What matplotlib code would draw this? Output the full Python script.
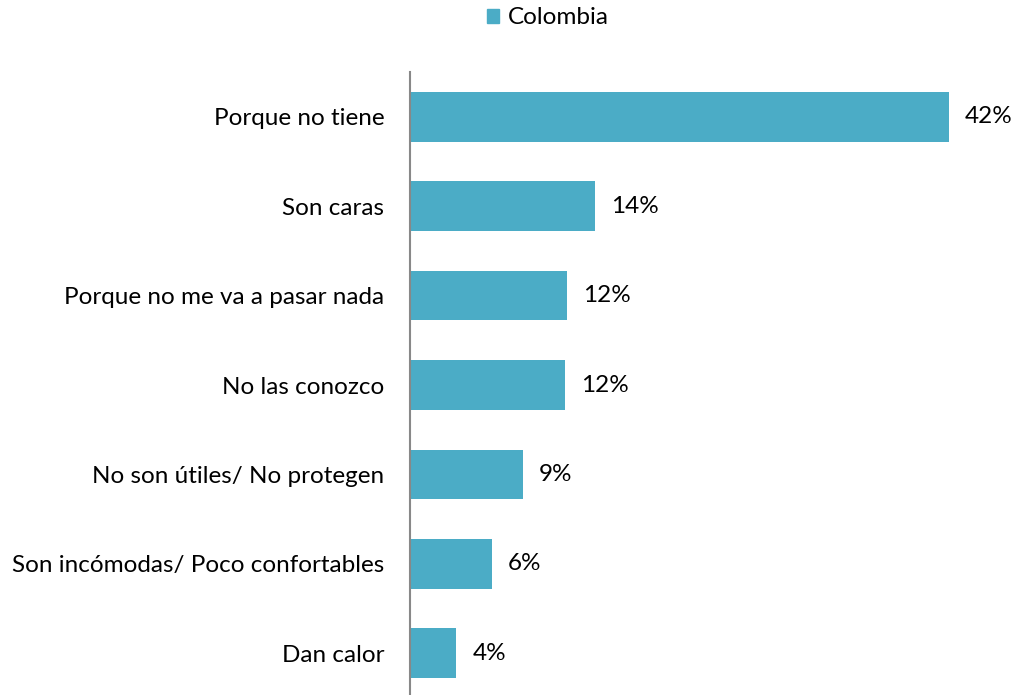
import matplotlib
matplotlib.use("Agg")
import matplotlib.pyplot as plt
import matplotlib.patches as mpatches

# Chart data (top to bottom)
categories = [
    "Porque no tiene",
    "Son caras",
    "Porque no me va a pasar nada",
    "No las conozco",
    "No son útiles/ No protegen",
    "Son incómodas/ Poco confortables",
    "Dan calor",
]
values = [42.0, 14.4, 12.2, 12.1, 8.8, 6.4, 3.6]
value_labels = ["42%", "14%", "12%", "12%", "9%", "6%", "4%"]
series_name = "Colombia"

bar_color = "#4BACC6"
fs = 17.5
plt.rcParams["font.family"] = ["Lato", "DejaVu Sans"]

fig = plt.figure(figsize=(10.16, 6.95), dpi=100)
ax = fig.add_axes([410 / 1016, -3 / 695, 603 / 1016, 626 / 695])

y = list(range(len(categories)))
ax.barh(y, values, height=0.556, color=bar_color)
ax.set_ylim(len(categories) - 0.5, -0.5)
ax.set_xlim(0, 47)

for yi, v, lab in zip(y, values, value_labels):
    ax.text(v + 1.25, yi, lab, va="center", ha="left", fontsize=fs, color="black")

ax.set_yticks(y)
ax.set_yticklabels(categories, fontsize=fs)
ax.tick_params(axis="y", length=0, pad=18.5)
ax.set_xticks([])

for side in ["top", "right", "bottom"]:
    ax.spines[side].set_visible(False)
ax.spines["left"].set_color("#888888")
ax.spines["left"].set_linewidth(1.5)

handle = mpatches.Patch(color=bar_color, label=series_name)
fig.legend(handles=[handle], loc="center", bbox_to_anchor=(548 / 1016, 1 - 18 / 695),
           frameon=False, fontsize=fs, handlelength=0.5, handleheight=0.5,
           handletextpad=0.35, borderpad=0)

fig.savefig("out.png", dpi=100)
